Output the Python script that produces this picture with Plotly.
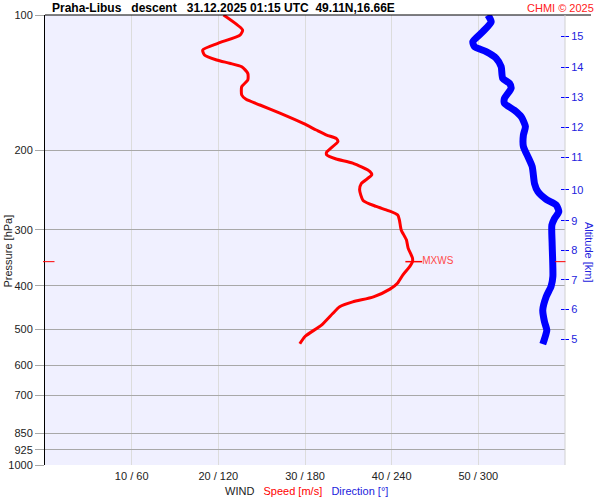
import math
import plotly.graph_objects as go

# texts
title = "Praha-Libus   descent   31.12.2025 01:15 UTC  49.11N,16.66E"
credit = "CHMI © 2025"

# pressure axis
p_levels = [100, 200, 300, 400, 500, 600, 700, 850, 925, 1000]

# wind axis ticks (speed m/s / direction deg)
speed_ticks = [10, 20, 30, 40, 50]
dir_ticks = [60, 120, 180, 240, 300]

# altitude ticks (km) and matching pressure
alt_km = [5, 6, 7, 8, 9, 10, 11, 12, 13, 14, 15]
alt_p = [524.8, 450.8, 388.0, 333.5, 286.5, 244.5, 207.0, 177.6, 152.3, 130.9, 111.4]

# wind speed profile
speed_p = [100, 108.0, 110.8, 115.6, 119.6, 122.7, 125.9, 128.0, 130.3, 134.8, 139.5,
           144.3, 150.6, 153.9, 158.5, 165.3, 174.2, 180.1, 184.8, 188.0, 191.1,
           201.8, 204.6, 208.9, 213.3, 222.8, 226.6, 236.9, 244.6, 258.2, 266.3,
           272.0, 278.3, 285.9, 300.4, 316.0, 329.6, 346.7, 353.3, 362.0, 378.0,
           393.9, 406.6, 423.0, 434.0, 445.0, 460.6, 488.8, 518.0, 537.7]
speed = [20.6, 22.8, 22.5, 19.95, 18.2, 18.4, 19.8, 21.3, 22.7, 23.4, 23.4,
         22.7, 22.7, 23.2, 24.8, 27.1, 29.8, 31.3, 32.5, 33.6, 33.8,
         32.5, 32.5, 33.6, 35.5, 37.5, 37.7, 36.5, 36.3, 36.7, 38.2,
         39.6, 40.7, 40.9, 41.1, 41.7, 41.9, 42.4, 42.4, 42.1, 41.3,
         40.7, 39.8, 37.9, 35.5, 34.0, 33.2, 31.9, 30.0, 29.4]

# wind direction profile
dir_p = [100, 103.5, 108.9, 114.6, 117.6, 120.6, 124.8, 130.3, 138.3, 141.9, 145.5,
         153.2, 157.2, 162.8, 168.3, 177.0, 184.8, 196.0, 206.4, 217.3, 236.9,
         246.8, 256.8, 264.3, 273.7, 283.5, 293.2, 322.1, 381.3, 400.7, 422.6,
         452.6, 480.7, 502.0, 524.7, 538.7]
direction = [306.6, 308.9, 303.1, 296.2, 297.3, 305.4, 312.4, 315.8, 316.9, 321.6, 322.7,
             318.1, 318.1, 325.0, 329.7, 332.6, 331.2, 331.2, 334.3, 337.3, 338.9,
             341.2, 347.0, 353.9, 355.7, 352.7, 350.9, 351.1, 351.6, 350.4, 347.0,
             344.6, 345.8, 347.4, 345.8, 344.6]

# max wind
mxws_p = 353.3
mxws = 42.4

FONT = "Liberation Sans, Arial, sans-serif"
LOGR = [3, 2]

fig = go.Figure()

fig.add_trace(go.Scatter(x=direction, y=dir_p, xaxis="x2", yaxis="y", mode="lines",
                         line=dict(color="#0000ff", width=7, shape="spline", smoothing=0.6),
                         showlegend=False, hoverinfo="skip"))
fig.add_trace(go.Scatter(x=speed, y=speed_p, mode="lines",
                         line=dict(color="#ff0000", width=3, shape="spline", smoothing=0.6),
                         showlegend=False))
fig.add_trace(go.Scatter(x=[mxws + 0.15], y=[mxws_p], mode="markers+text",
                         marker=dict(symbol="line-ew", size=12, line=dict(color="#ff0000", width=1.5)),
                         text=["MXWS"], textposition="middle right",
                         textfont=dict(size=10, color="#ff4a4a", family=FONT),
                         showlegend=False, cliponaxis=False))
# invisible trace so the free altitude axis gets drawn
fig.add_trace(go.Scatter(x=[mxws] * len(alt_p), y=alt_p, yaxis="y2", mode="markers",
                         marker=dict(opacity=0), showlegend=False, hoverinfo="skip"))

# red max-wind ticks across the left and right frame (arrow-only annotations, not clipped)
mx_log = math.log10(mxws_p)
mx_ticks = [dict(text="", xref="paper", yref="y", x=x0, y=mx_log, showarrow=True,
                 arrowhead=0, arrowwidth=1, arrowcolor="#ff0000", ax=length, ay=0,
                 standoff=0, startstandoff=0)
            for x0, length in [((43 - 45) / 520, 13), ((555 - 45) / 520, 12)]]

fig.update_layout(
    width=600, height=500,
    margin=dict(l=45, r=35, t=15, b=35, autoexpand=False),
    paper_bgcolor="white",
    plot_bgcolor="#f0f0ff",
    font=dict(family=FONT, size=11, color="#222"),
    xaxis=dict(range=[0, 60], tickvals=speed_ticks, automargin=False,
               ticktext=[f"{s} / {d}" for s, d in zip(speed_ticks, dir_ticks)],
               showgrid=True, gridcolor="#dcdcdc", gridwidth=1, ticklabelstandoff=3,
               zeroline=False, showline=False, ticks="", tickfont=dict(size=11, color="#222")),
    xaxis2=dict(range=[0, 360], overlaying="x", anchor="y", visible=False),
    yaxis=dict(type="log", range=LOGR, tickvals=p_levels, ticktext=[str(p) for p in p_levels],
               automargin=False,
               showgrid=True, gridcolor="#a8a8a8", gridwidth=1, zeroline=False,
               showline=True, linecolor="black", linewidth=1,
               ticks="outside", ticklen=9, tickcolor="#a8a8a8", tickfont=dict(size=11, color="#222")),
    yaxis2=dict(type="log", range=LOGR, overlaying="y", anchor="free", automargin=False,
                showgrid=False, zeroline=False, showline=False,
                position=(560 - 45) / 520, side="right",
                tickvals=alt_p, ticktext=[str(a) for a in alt_km],
                ticks="outside", ticklen=8, tickcolor="#0000ff", tickwidth=1.2,
                tickfont=dict(size=11, color="#2222dd")),
    shapes=[
        dict(type="line", xref="paper", yref="paper", x0=0, x1=(591 - 45) / 520, y0=1, y1=1,
             line=dict(color="black", width=1)),
        dict(type="line", xref="paper", yref="paper", x0=1, x1=1, y0=0, y1=1,
             line=dict(color="#d0d0d0", width=1)),
    ],
    annotations=[
        dict(text=f"<b>{title}</b>", xref="paper", yref="paper", x=(50 - 45) / 520, y=(465 - 8) / 450,
             xanchor="left", yanchor="middle", showarrow=False, font=dict(size=12, color="black")),
        dict(text=credit, xref="paper", yref="paper", x=(596 - 45) / 520, y=(465 - 8) / 450,
             xanchor="right", yanchor="middle", showarrow=False, font=dict(size=11, color="#ff2020")),
        dict(text="Pressure [hPa]", xref="paper", yref="paper", x=(7.5 - 45) / 520, y=(465 - 251) / 450,
             xanchor="center", yanchor="middle",
             textangle=-90, showarrow=False, font=dict(size=11, color="#222")),
        dict(text="Altitude [km]", xref="paper", yref="paper", x=(589 - 45) / 520, y=(465 - 252) / 450,
             xanchor="center", yanchor="middle",
             textangle=90, showarrow=False, font=dict(size=11, color="#2222dd")),
        dict(text="WIND   <span style='color:#ff0000'>Speed [m/s]</span>   "
                  "<span style='color:#2222dd'>Direction [°]</span>",
             xref="paper", yref="paper", x=(306 - 45) / 520, y=(465 - 491) / 450,
             xanchor="center", yanchor="middle",
             showarrow=False, font=dict(size=11, color="#222")),
    ] + mx_ticks,
)

fig.write_html("out.html", config={"displayModeBar": False},
               post_script="document.body.style.margin='0';")
